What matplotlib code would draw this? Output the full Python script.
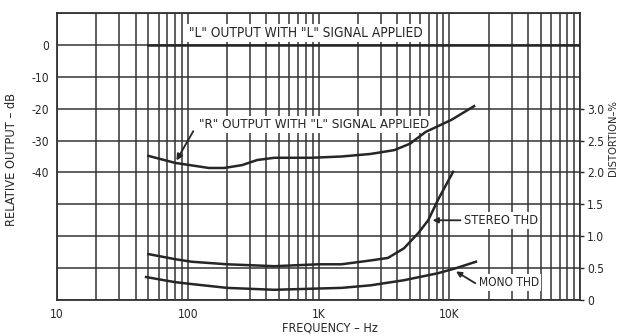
import numpy as np
import matplotlib
matplotlib.use('Agg')
import matplotlib.pyplot as plt
from matplotlib.ticker import LogLocator, NullFormatter, FixedLocator

plt.rcParams['font.family'] = ['DejaVu Sans']
plt.rcParams['font.stretch'] = 'condensed'

# data
l_freq = [50, 100000]
l_db = [0.0, 0.0]

r_freq = [50, 80, 145, 190, 260, 340, 460, 880, 1500, 2500, 3800, 5000, 6600, 10400, 15500]
r_db = [-34.8, -37.0, -38.6, -38.6, -37.7, -36.1, -35.4, -35.4, -35.0, -34.2, -33.0, -31.0, -27.3, -23.5, -19.2]

stereo_freq = [50, 80, 107, 200, 460, 1000, 1500, 2500, 3400, 4500, 5800, 6900, 8200, 10700]
stereo_thd = [0.72, 0.64, 0.60, 0.56, 0.53, 0.56, 0.56, 0.62, 0.66, 0.81, 1.05, 1.25, 1.57, 2.01]

mono_freq = [48, 80, 107, 200, 460, 1000, 1500, 2500, 4500, 8200, 11300, 16000]
mono_thd = [0.36, 0.28, 0.25, 0.19, 0.16, 0.18, 0.19, 0.23, 0.31, 0.42, 0.50, 0.60]

db_ticks = [0, -10, -20, -30, -40]
db_labels = ['0', '-10', '-20', '-30', '-40']
thd_ticks = [0, 0.5, 1.0, 1.5, 2.0, 2.5, 3.0]
thd_labels = ['0', '0.5', '1.0', '1.5', '2.0', '2.5', '3.0']
freq_ticks = [10, 100, 1000, 10000]
freq_labels = ['10', '100', '1K', '10K']

ink = '#262626'
grid_c = '#333333'
fs = 8.6

fig = plt.figure(figsize=(6.2, 3.36), dpi=100)
ax = fig.add_axes([57 / 620, 36 / 336, 523 / 620, 287 / 336])

ax.set_xscale('log')
ax.set_xlim(10, 100000)
ax.set_ylim(-80, 10)

# log grid with every multiple, 10 dB horizontal grid
ax.xaxis.set_major_locator(FixedLocator(freq_ticks))
ax.xaxis.set_minor_locator(LogLocator(base=10, subs=np.arange(1, 10)))
ax.xaxis.set_minor_formatter(NullFormatter())
ax.set_xticklabels(freq_labels)
ax.grid(True, which='both', axis='x', color=grid_c, lw=1.1)
ax.grid(True, which='major', axis='y', color=grid_c, lw=1.1)
ax.set_yticks(np.arange(-80, 11, 10))
ax.set_yticklabels([db_labels[db_ticks.index(v)] if v in db_ticks else '' for v in range(-80, 11, 10)])
ax.tick_params(axis='both', which='both', length=0, labelsize=fs, colors=ink, pad=6)
for s in ax.spines.values():
    s.set_color(grid_c)
    s.set_linewidth(1.3)

ax.plot(l_freq, l_db, color=ink, lw=1.8, zorder=3)
ax.plot(r_freq, r_db, color=ink, lw=1.8, zorder=5)

ax2 = ax.twinx()
ax2.set_ylim(0, 4.5)
ax2.set_yticks(thd_ticks)
ax2.set_yticklabels(thd_labels)
ax2.tick_params(axis='y', length=3, width=1, colors=ink, labelsize=fs, pad=2)
for s in ax2.spines.values():
    s.set_visible(False)
ax2.plot(stereo_freq, stereo_thd, color=ink, lw=1.8, zorder=3)
ax2.plot(mono_freq, mono_thd, color=ink, lw=1.8, zorder=3)

box = dict(facecolor='white', edgecolor='none', pad=1.5)
ax.text(800, 3.8, '"L" OUTPUT WITH "L" SIGNAL APPLIED', ha='center', va='center',
        fontsize=9.8, color=ink, bbox=box, zorder=4)
ax.text(930, -25.0, '"R" OUTPUT WITH "L" SIGNAL APPLIED', ha='center', va='center',
        fontsize=9.6, color=ink, bbox=box, zorder=4)
ax.annotate('', xy=(80, -37.0), xytext=(113, -26.3),
            arrowprops=dict(arrowstyle='-|>', color=ink, lw=1.3, mutation_scale=9), zorder=4)

ax2.text(13000, 1.25, 'STEREO THD', ha='left', va='center', fontsize=9.2, color=ink, bbox=box)
ax2.annotate('', xy=(7100, 1.25), xytext=(12800, 1.25),
             arrowprops=dict(arrowstyle='-|>', color=ink, lw=1.3, mutation_scale=8))
ax2.text(16800, 0.27, 'MONO THD', ha='left', va='center', fontsize=8.6, color=ink, bbox=box)
ax2.annotate('', xy=(10800, 0.47), xytext=(16500, 0.24),
             arrowprops=dict(arrowstyle='-|>', color=ink, lw=1.3, mutation_scale=8))

fig.text(12 / 620, 1 - 160 / 336, 'RELATIVE OUTPUT – dB', rotation=90, ha='center', va='center',
         fontsize=9.2, color=ink)
fig.text(330 / 620, 1 - 328 / 336, 'FREQUENCY – Hz', ha='center', va='center',
         fontsize=9, color=ink)
fig.text(613 / 620, 1 - 138 / 336, 'DISTORTION–%', rotation=90, ha='center', va='center',
         fontsize=8, color=ink)

fig.savefig('out.png', dpi=100, facecolor='white')
